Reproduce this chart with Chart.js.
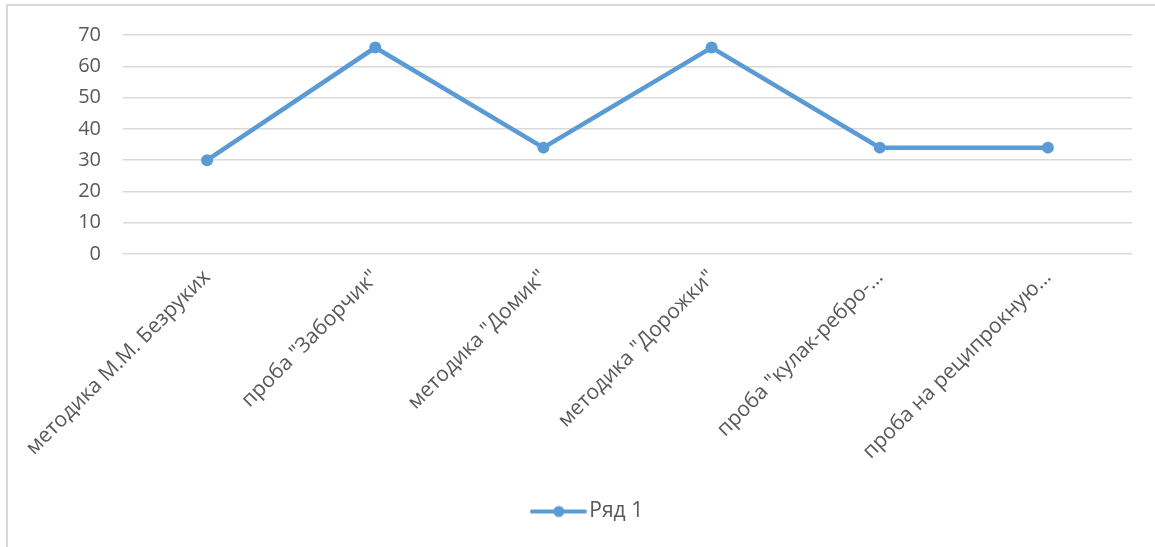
<!DOCTYPE html>
<html>
<head>
<meta charset="utf-8">
<script src="https://cdn.jsdelivr.net/npm/chart.js@4.4.0/dist/chart.umd.min.js"></script>
<style>
    html, body { margin: 0; padding: 0; background: #fff; overflow: hidden; }
    #frame {
        position: absolute; left: 6px; top: 4px; width: 1200px; height: 600px;
        border-left: 2px solid #d9d9d9; border-top: 2px solid #d9d9d9;
    }
    #wrap { position: absolute; left: 0; top: 0; width: 1155px; height: 547px; }
</style>
</head>
<body>
<div id="frame"></div>
<div id="wrap"><canvas id="line-chart"></canvas></div>
<script>
// datos del grafico
const categories = [
    'методика М.М. Безруких',
    'проба "Заборчик"',
    'методика "Домик"',
    'методика "Дорожки"',
    'проба "кулак-ребро-…',
    'проба на реципрокную…'
];
const seriesName = 'Ряд 1';
const seriesValues = [30, 66, 34, 66, 34, 34];
const yMin = 0;
const yMax = 70;
const yStep = 10;

const blue = '#5b9bd5';
const textGrey = '#595959';
const gridGrey = '#d9d9d9';

// marcador de la leyenda: linea con punto (con margen transparente a la izquierda)
const legendMark = document.createElement('canvas');
legendMark.width = 106;
legendMark.height = 14;
const lm = legendMark.getContext('2d');
lm.strokeStyle = blue;
lm.lineWidth = 4;
lm.lineCap = 'round';
lm.beginPath();
lm.moveTo(51, 7);
lm.lineTo(104, 7);
lm.stroke();
lm.fillStyle = blue;
lm.beginPath();
lm.arc(78, 7, 5.5, 0, Math.PI * 2);
lm.fill();

Chart.defaults.font.family = '"Open Sans", sans-serif';
Chart.defaults.color = textGrey;

const ctx = document.getElementById('line-chart').getContext('2d');
const myChart = new Chart(ctx, {
    type: 'line',
    data: {
        labels: categories,
        datasets: [{
            label: seriesName,
            data: seriesValues,
            borderColor: blue,
            backgroundColor: blue,
            borderWidth: 4.5,
            pointRadius: 6,
            pointBackgroundColor: blue,
            pointBorderWidth: 0,
            pointStyle: 'circle',
            tension: 0
        }]
    },
    options: {
        responsive: true,
        maintainAspectRatio: false,
        animation: false,
        layout: {
            padding: { left: 0, right: 23, top: 35, bottom: 15 }
        },
        scales: {
            x: {
                offset: true,
                grid: { display: false, drawTicks: false },
                border: { display: false },
                ticks: {
                    color: textGrey,
                    font: { size: 21 },
                    minRotation: 45,
                    maxRotation: 45,
                    autoSkip: false,
                    padding: 11
                },
                afterFit: function (scale) { scale.height = 237; }
            },
            y: {
                min: yMin,
                max: yMax,
                grid: { color: gridGrey, lineWidth: 1.5, drawTicks: false },
                border: { display: false },
                ticks: {
                    stepSize: yStep,
                    color: textGrey,
                    font: { size: 20 },
                    padding: 22
                },
                afterFit: function (scale) { scale.width = 123; }
            }
        },
        plugins: {
            legend: {
                position: 'bottom',
                labels: {
                    usePointStyle: true,
                    pointStyle: legendMark,
                    pointStyleWidth: 90,
                    color: textGrey,
                    font: { size: 21 },
                    padding: 10
                }
            },
            tooltip: { enabled: false }
        }
    }
});
</script>
</body>
</html>
